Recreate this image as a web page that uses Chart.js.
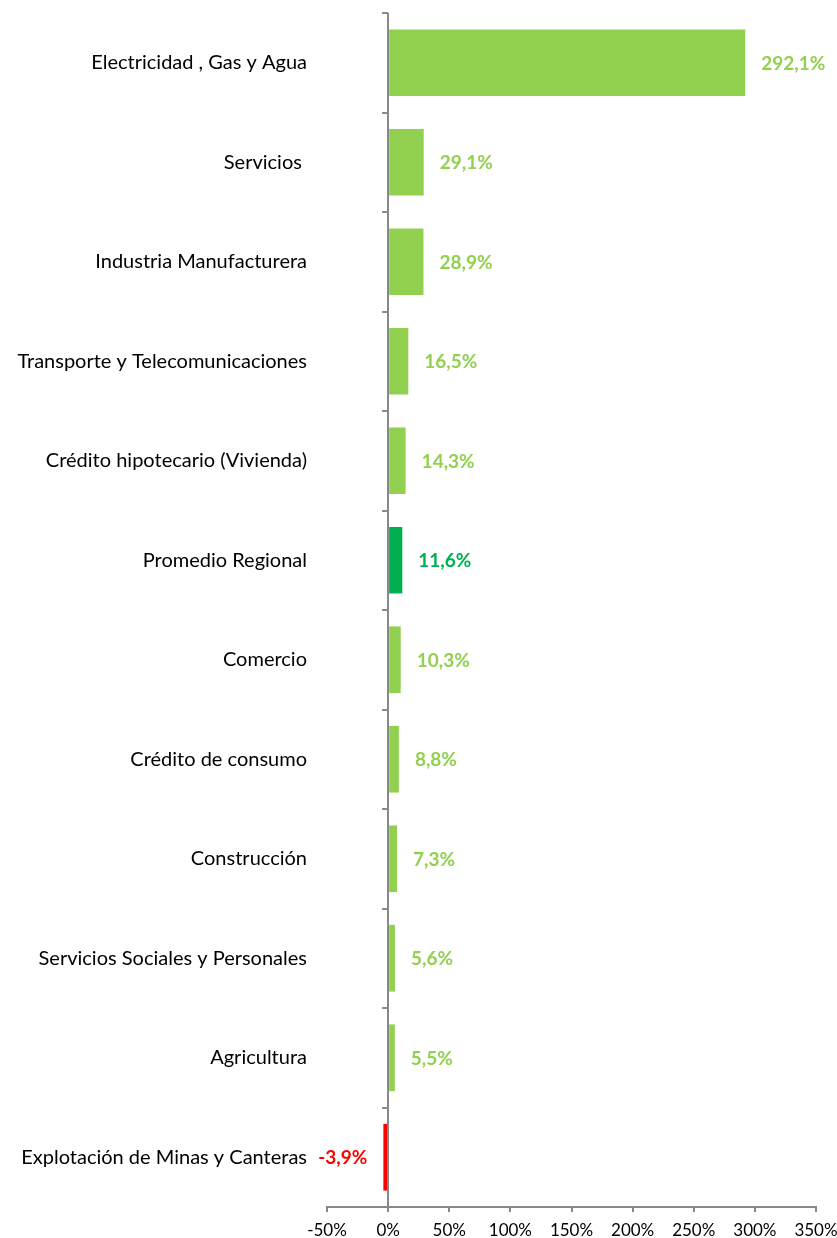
<!DOCTYPE html>
<html>
<head>
<meta charset="utf-8">
<script src="https://cdn.jsdelivr.net/npm/chart.js@4/dist/chart.umd.min.js"></script>
<style>
  html, body { margin: 0; padding: 0; background: #fff; }
  #wrap { width: 837px; height: 1238px; position: relative; }
</style>
</head>
<body>
<div id="wrap"><canvas id="chart"></canvas></div>
<script>
// Datos del grafico
const sectores = [
  'Electricidad , Gas y Agua',
  'Servicios ',
  'Industria Manufacturera',
  'Transporte y Telecomunicaciones',
  'Crédito hipotecario (Vivienda)',
  'Promedio Regional',
  'Comercio',
  'Crédito de consumo',
  'Construcción',
  'Servicios Sociales y Personales',
  'Agricultura',
  'Explotación de Minas y Canteras'
];
const variacion = [292.1, 29.1, 28.9, 16.5, 14.3, 11.6, 10.3, 8.8, 7.3, 5.6, 5.5, -3.9];
const ejeMin = -50;
const ejeMax = 350;
const ejePaso = 50;

const VERDE = '#92D050';
const VERDE_OSC = '#00B050';
const ROJO = '#FF0000';
const GRIS = '#888888';

function colorDe(i) {
  if (sectores[i] === 'Promedio Regional') return VERDE_OSC;
  if (variacion[i] < 0) return ROJO;
  return VERDE;
}
const colores = variacion.map((v, i) => colorDe(i));

function fmt(v) {
  return v.toFixed(1).replace('.', ',') + '%';
}

// Marcas del eje de categorias sobre la linea del cero + etiquetas de datos
const extras = {
  id: 'extras',
  afterDraw(chart) {
    const ctx = chart.ctx;
    const xs = chart.scales.x;
    const ys = chart.scales.y;
    const x0 = xs.getPixelForValue(0);
    ctx.save();
    ctx.strokeStyle = GRIS;
    ctx.lineWidth = 2;
    for (let i = 0; i <= sectores.length; i++) {
      const y = Math.round(ys.getPixelForValue(i - 0.5));
      ctx.beginPath();
      ctx.moveTo(x0 - 6, y);
      ctx.lineTo(x0, y);
      ctx.stroke();
    }
    const meta = chart.getDatasetMeta(0);
    ctx.font = 'bold 19px Lato';
    ctx.textBaseline = 'middle';
    meta.data.forEach((bar, i) => {
      const v = variacion[i];
      ctx.fillStyle = colores[i];
      if (v >= 0) {
        ctx.textAlign = 'left';
        ctx.fillText(fmt(v), bar.x + 16, bar.y + 1);
      } else {
        ctx.textAlign = 'right';
        ctx.fillText(fmt(v), bar.x - 16, bar.y + 1);
      }
    });
    ctx.restore();
  }
};

const data = {
  labels: sectores,
  datasets: [{
    data: variacion,
    backgroundColor: colores,
    borderWidth: 0,
    barPercentage: 0.67,
    categoryPercentage: 1
  }]
};

const config = {
  type: 'bar',
  data,
  options: {
    indexAxis: 'y',
    responsive: true,
    maintainAspectRatio: false,
    animation: false,
    layout: { padding: { top: 13, right: 21, left: 0, bottom: 0 } },
    plugins: {
      legend: { display: false },
      tooltip: { enabled: false }
    },
    scales: {
      x: {
        min: ejeMin,
        max: ejeMax,
        ticks: {
          stepSize: ejePaso,
          color: '#000',
          font: { family: 'Lato', size: 17 },
          padding: 8,
          maxRotation: 0,
          callback: v => v + '%'
        },
        grid: {
          color: c => (c.tick && c.tick.value === 0) ? GRIS : 'rgba(0,0,0,0)',
          tickColor: GRIS,
          lineWidth: 2,
          tickLength: 5
        },
        border: { display: true, color: GRIS, width: 2 },
        afterFit: s => {
          s.height = 31;
          s.paddingLeft = 0;
          s.paddingRight = 0;
        }
      },
      y: {
        ticks: {
          color: '#000',
          font: { family: 'Lato', size: 20 },
          padding: 20
        },
        grid: { display: false, drawTicks: false },
        border: { display: false },
        afterFit: s => {
          s.width = 327;
          s.paddingTop = 0;
          s.paddingBottom = 0;
        }
      }
    }
  },
  plugins: [extras]
};

const myChart = new Chart(document.getElementById('chart').getContext('2d'), config);
</script>
</body>
</html>
